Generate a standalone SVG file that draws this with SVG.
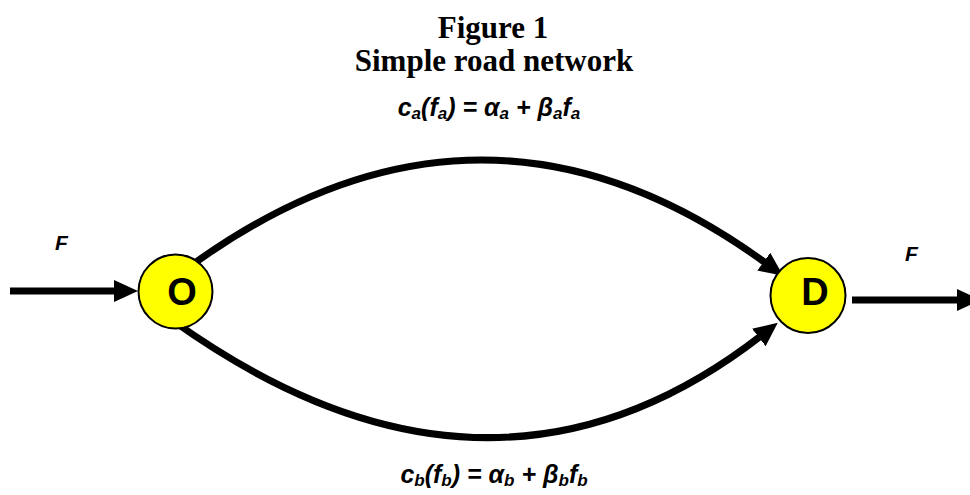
<svg xmlns="http://www.w3.org/2000/svg" width="970" height="495" viewBox="0 0 970 495">
<style>
.title{font-family:"Liberation Serif","Times New Roman",serif;font-weight:bold;font-size:31px;fill:#000;text-anchor:middle}
.f{font-family:"Liberation Sans",Arial,sans-serif;font-weight:bold;font-style:italic;font-size:25px;fill:#000;text-anchor:middle}
.sub{font-size:17px}
.lbl{font-family:"Liberation Sans",Arial,sans-serif;font-weight:bold;font-style:italic;font-size:21px;fill:#000}
.edge{fill:none;stroke:#000;stroke-width:7;marker-end:url(#ah)}
.node circle{fill:#ffff00;stroke:#000;stroke-width:2}
.node text{font-family:"Liberation Sans",Arial,sans-serif;font-weight:bold;font-size:38px;fill:#000;text-anchor:middle}
</style>
<defs>
<marker id="ah" markerUnits="userSpaceOnUse" markerWidth="26" markerHeight="24" refX="4" refY="11" orient="auto">
<path d="M0,0 L24,11 L0,22 z" fill="#000"/>
</marker>
</defs>
<rect width="970" height="495" fill="#fff"/>
<text class="title" x="493" y="38">Figure 1</text>
<text class="title" x="494" y="71">Simple road network</text>
<text class="f" x="489" y="116">c<tspan class="sub" dy="3">a</tspan><tspan dy="-3">(f</tspan><tspan class="sub" dy="3">a</tspan><tspan dy="-3">) = α</tspan><tspan class="sub" dy="3">a</tspan><tspan dy="-3"> + β</tspan><tspan class="sub" dy="3">a</tspan><tspan dy="-3">f</tspan><tspan class="sub" dy="3">a</tspan></text>
<text class="f" x="494" y="483">c<tspan class="sub" dy="3">b</tspan><tspan dy="-3">(f</tspan><tspan class="sub" dy="3">b</tspan><tspan dy="-3">) = α</tspan><tspan class="sub" dy="3">b</tspan><tspan dy="-3"> + β</tspan><tspan class="sub" dy="3">b</tspan><tspan dy="-3">f</tspan><tspan class="sub" dy="3">b</tspan></text>
<text class="lbl" x="55" y="250">F</text>
<text class="lbl" x="905" y="261">F</text>
<g id="connectors">
<path class="edge" d="M10,291 L118,291"/>
<path class="edge" d="M852,300 L961,300"/>
<path class="edge" d="M185,270 Q479,53 767,264"/>
<path class="edge" d="M172,320 Q489,547.5 762,335"/>
</g>
<g id="node-O" class="node">
<circle cx="175.5" cy="291.5" r="37"/>
<text x="182" y="305">O</text>
</g>
<g id="node-D" class="node">
<circle cx="808" cy="295.5" r="37.5"/>
<text x="815" y="305">D</text>
</g>
</svg>
